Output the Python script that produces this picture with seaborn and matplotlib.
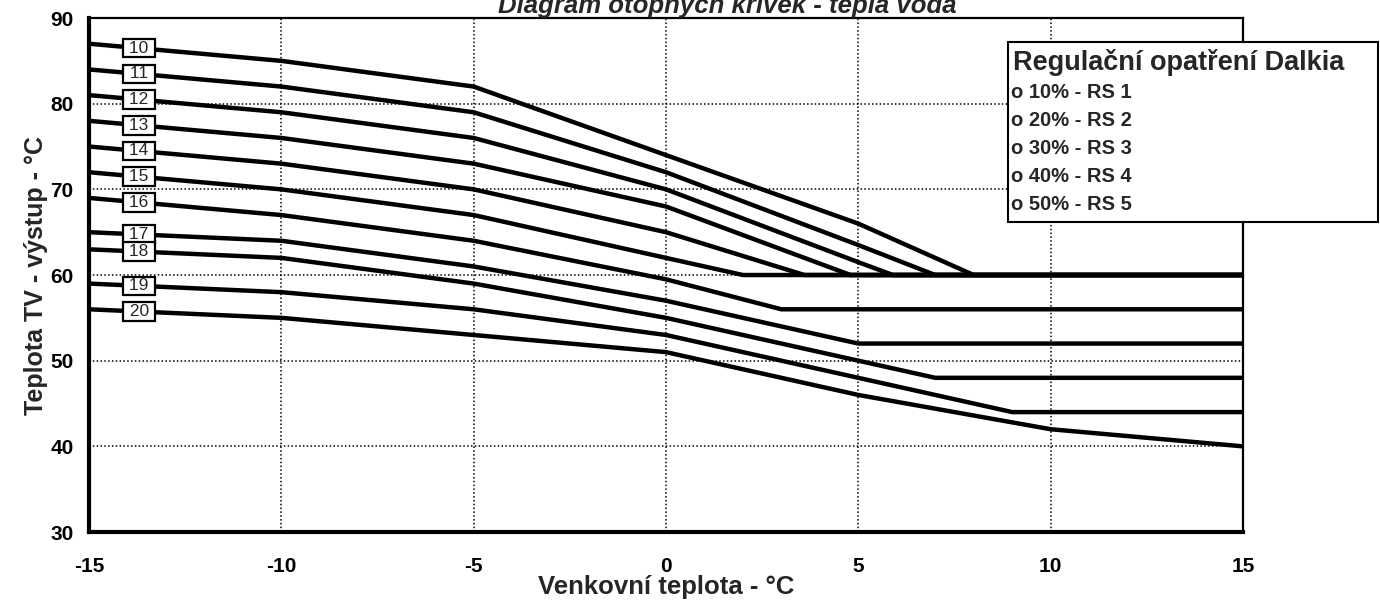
import matplotlib
matplotlib.use("Agg")
import matplotlib.pyplot as plt
from matplotlib.patches import Rectangle
import seaborn as sns
import pandas as pd
import numpy as np

# Curve numbers (labels in the small boxes)
curve_ids = [10, 11, 12, 13, 14, 15, 16, 17, 18, 19, 20]

# Vertices of each curve: outdoor temperature (x) and water temperature (y)
curve_x = [
    [-15, -10, -5, 0, 5, 8, 15],
    [-15, -10, -5, 0, 5, 7, 15],
    [-15, -10, -5, 0, 5, 5.9, 15],
    [-15, -10, -5, 0, 4.8, 15],
    [-15, -10, -5, 0, 3.6, 15],
    [-15, -10, -5, 0, 2, 15],
    [-15, -10, -5, 0, 3, 15],
    [-15, -10, -5, 0, 5, 15],
    [-15, -10, -5, 0, 5, 7, 15],
    [-15, -10, -5, 0, 5, 9, 15],
    [-15, -10, -5, 0, 5, 10, 15],
]
curve_y = [
    [87, 85, 82, 74, 66, 60, 60],
    [84, 82, 79, 72, 63.5, 60, 60],
    [81, 79, 76, 70, 61.5, 60, 60],
    [78, 76, 73, 68, 60, 60],
    [75, 73, 70, 65, 60, 60],
    [72, 70, 67, 62, 60, 60],
    [69, 67, 64, 59.5, 56, 56],
    [65, 64, 61, 57, 52, 52],
    [63, 62, 59, 55, 50, 48, 48],
    [59, 58, 56, 53, 48, 44, 44],
    [56, 55, 53, 51, 46, 42, 40],
]

x_ticks = [-15, -10, -5, 0, 5, 10, 15]
y_ticks = [30, 40, 50, 60, 70, 80, 90]

legend_title = "Regulační opatření Dalkia"
legend_items = ["o 10% - RS 1", "o 20% - RS 2", "o 30% - RS 3", "o 40% - RS 4", "o 50% - RS 5"]

rows = []
for cid, xs, ys in zip(curve_ids, curve_x, curve_y):
    for xv, yv in zip(xs, ys):
        rows.append({"curve": cid, "x": xv, "y": yv})
df = pd.DataFrame(rows)

sns.set_theme(style="white")
plt.rcParams["font.family"] = ["Liberation Sans", "DejaVu Sans"]

fig = plt.figure(figsize=(13.8, 6.09), dpi=100)
ax = fig.add_axes([0.0645, 0.1264, 0.8362, 0.8440])

sns.lineplot(data=df, x="x", y="y", units="curve", estimator=None,
             color="black", linewidth=3.2, sort=False, ax=ax, legend=False)

ax.set_xlim(-15, 15)
ax.set_ylim(30, 90)
ax.set_xticks(x_ticks)
ax.set_yticks(y_ticks)
ax.set_xticklabels([str(t) for t in x_ticks], fontsize=15, fontweight="bold")
ax.set_yticklabels([str(t) for t in y_ticks], fontsize=15, fontweight="bold")
ax.tick_params(axis="x", direction="out", length=5, width=2, pad=13, colors="black")
ax.tick_params(axis="y", direction="out", length=5, width=2, pad=6, colors="black")
ax.grid(True, color="black", linestyle=(0, (1, 1.5)), linewidth=1.1)

for side in ["left", "bottom"]:
    ax.spines[side].set_linewidth(3)
    ax.spines[side].set_color("black")
for side in ["top", "right"]:
    ax.spines[side].set_linewidth(1.6)
    ax.spines[side].set_color("black")
    ax.spines[side].set_visible(True)

ax.set_xlabel("Venkovní teplota - °C", fontsize=18.5, fontweight="bold", labelpad=-1)
ax.set_ylabel("Teplota TV - výstup - °C", fontsize=18, fontweight="bold", labelpad=2)

# number boxes on the curves
label_x = -13.7
for cid, xs, ys in zip(curve_ids, curve_x, curve_y):
    yv = np.interp(label_x, xs, ys)
    ax.text(label_x, yv, " " + str(cid) + " ", ha="center", va="center", fontsize=12.5,
            bbox=dict(boxstyle="square,pad=0.1", facecolor="white",
                      edgecolor="black", linewidth=1.6), zorder=5)

# title, cut by the top edge as in the scan
fig.text(0.527, 0.979, "Diagram otopných křivek - teplá voda", ha="center",
         va="baseline", fontsize=18.5, fontweight="bold", fontstyle="italic")

# legend box
box = Rectangle((1008 / 1380, 1 - 222 / 609), 370 / 1380, 180 / 609,
                transform=fig.transFigure, facecolor="white",
                edgecolor="black", linewidth=1.5, zorder=10)
fig.patches.append(box)
fig.text(1013 / 1380, 1 - 62 / 609, legend_title, ha="left", va="center",
         fontsize=19.5, fontweight="bold", zorder=11)
for i, item in enumerate(legend_items):
    fig.text(1011 / 1380, 1 - (93 + i * 28) / 609, item, ha="left",
             va="center", fontsize=14.5, fontweight="bold", zorder=11)

fig.savefig("out.png", dpi=100, facecolor="white")
